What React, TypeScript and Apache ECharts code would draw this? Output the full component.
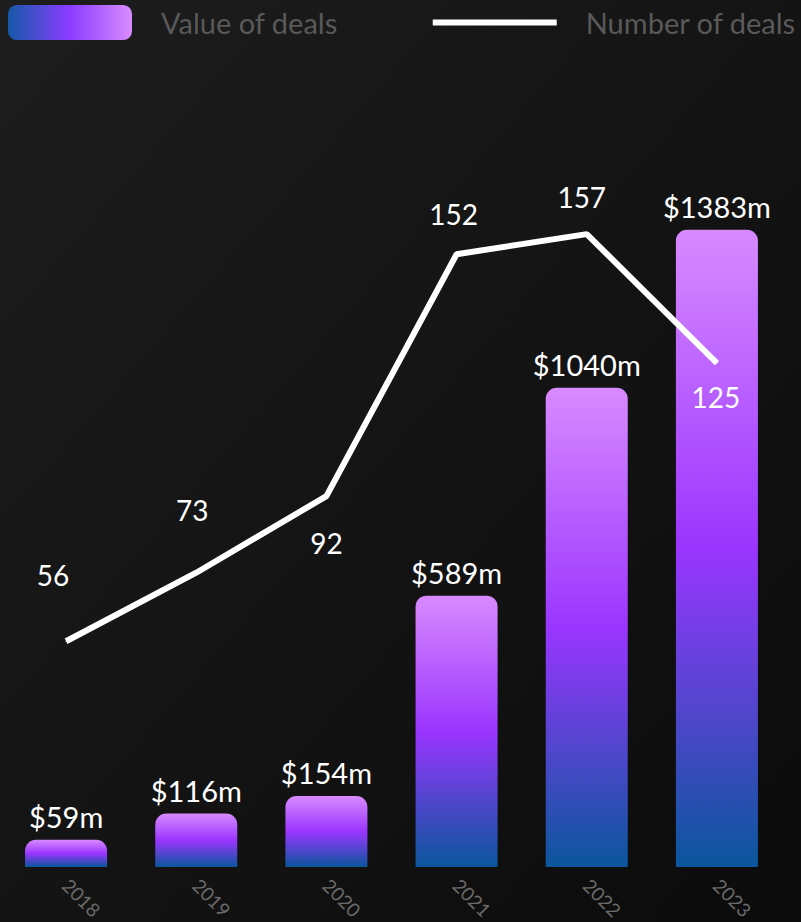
import React, { useEffect, useRef } from "react";
import * as echarts from "echarts";

const years = ["2018", "2019", "2020", "2021", "2022", "2023"];
const dealValues = [59, 116, 154, 589, 1040, 1383];
const dealCounts = [56, 73, 92, 152, 157, 125];
const countLabelPos = ["top", "top", "bottom", "top", "top", "bottom"];
const countLabelDist = [52, 48, 32, 26, 23, 19];
const countLabelDx = [-13, -4, 0, -3, -5, -1];

const FONT = "Lato, 'Noto Sans', sans-serif";

export default function App() {
  const ref = useRef<HTMLDivElement>(null);
  useEffect(() => {
    if (!ref.current) return;
    const chart = echarts.init(ref.current, undefined, { renderer: "svg" });
    const barGrad = new echarts.graphic.LinearGradient(0, 0, 0, 1, [
      { offset: 0, color: "#d88aff" },
      { offset: 0.5, color: "#9a35ff" },
      { offset: 1, color: "#0a569c" },
    ]);
    const legendGrad = new echarts.graphic.LinearGradient(0, 0, 1, 0, [
      { offset: 0, color: "#1558a8" },
      { offset: 0.5, color: "#8a3cff" },
      { offset: 1, color: "#d98cff" },
    ]);
    chart.setOption({
      animation: false,
      backgroundColor: new echarts.graphic.LinearGradient(0, 0, 1, 1, [
        { offset: 0, color: "#1d1d1d" },
        { offset: 1, color: "#0b0b0b" },
      ]),
      textStyle: { fontFamily: FONT },
      legend: {
        left: 8,
        top: 5,
        padding: 0,
        itemWidth: 124,
        itemHeight: 35,
        itemGap: 92,
        textStyle: {
          color: "#595959",
          fontSize: 29,
          fontFamily: FONT,
          padding: [4, 0, 0, 24],
        },
        data: [
          {
            name: "Value of deals",
            icon: "roundRect",
            itemStyle: { color: legendGrad, borderRadius: 6 },
          },
          {
            name: "Number of deals",
            itemStyle: { opacity: 0 },
            lineStyle: { color: "#ffffff", width: 6 },
          },
        ],
      },
      grid: { left: 1, right: 19, top: 222, bottom: 55, containLabel: false },
      xAxis: {
        type: "category",
        data: years,
        axisLine: { show: false },
        axisTick: { show: false },
        axisLabel: {
          rotate: -45,
          color: "#6a6a6a",
          fontSize: 19,
          margin: 15,
          fontFamily: FONT,
        },
      },
      yAxis: [
        { type: "value", min: 0, max: 1400, show: false },
        { type: "value", min: 0, max: 160, show: false },
      ],
      series: [
        {
          name: "Value of deals",
          type: "bar",
          yAxisIndex: 0,
          data: dealValues,
          barCategoryGap: "37%",
          itemStyle: { color: barGrad, borderRadius: [11, 11, 0, 0] },
          label: {
            show: true,
            position: "top",
            distance: 9,
            color: "#ffffff",
            fontSize: 29,
            fontFamily: FONT,
            formatter: (p: any) => "$" + p.value + "m",
          },
          z: 2,
        },
        {
          name: "Number of deals",
          type: "line",
          yAxisIndex: 1,
          symbol: "circle",
          symbolSize: 1,
          showSymbol: true,
          lineStyle: { color: "#ffffff", width: 6, cap: "butt" },
          itemStyle: { color: "#ffffff" },
          data: dealCounts.map((v, i) => ({
            value: v,
            label: {
              show: true,
              position: countLabelPos[i],
              distance: countLabelDist[i],
              offset: [countLabelDx[i], 0],
            },
          })),
          label: {
            show: true,
            color: "#ffffff",
            fontSize: 28,
            fontFamily: FONT,
          },
          z: 5,
        },
      ],
    });
    return () => chart.dispose();
  }, []);
  return (
    <div
      ref={ref}
      style={{ position: "absolute", left: 0, top: 0, width: 801, height: 922 }}
    />
  );
}
